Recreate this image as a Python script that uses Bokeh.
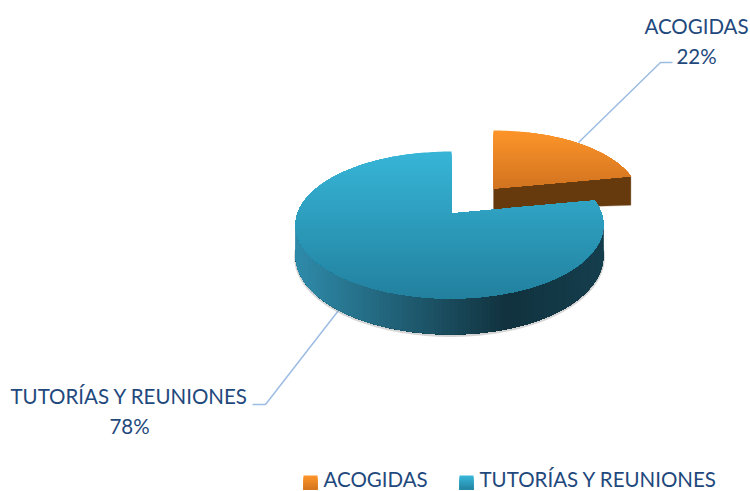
from math import sin, cos, pi
from bokeh.plotting import figure
from bokeh.models import Range1d
from bokeh.core.properties import value
from bokeh.embed import file_html
from bokeh.resources import INLINE

categories = ["ACOGIDAS", "TUTORÍAS Y REUNIONES"]
percentages = [22, 78]

FONT = value("Lato")
FS = "20.5px"
TEXT = "#1f497d"
LEADER = "#9dbce3"

p = figure(width=750, height=491, x_range=Range1d(0, 750), y_range=Range1d(491, 0),
           output_backend="svg", toolbar_location=None, min_border=0,
           outline_line_color=None, background_fill_color="white")
p.axis.visible = False
p.grid.visible = False


def lerp(c0, c1, t):
    t = max(0, min(1, t))
    return "#%02x%02x%02x" % tuple(round(a + (b - a) * t) for a, b in zip(c0, c1))


def rim(ax, ay, theta, r_left=154, r_right=150, k=71.7, persp=0.156, scale=1.0):
    s = scale / (1 + persp * cos(theta))
    r = r_right if sin(theta) > 0 else r_left
    return ax + r * sin(theta) * s, ay - k * cos(theta) * s


def clip_below(poly, y0):
    out = []
    for i, (x1, y1) in enumerate(poly):
        x2, y2 = poly[(i + 1) % len(poly)]
        if y1 >= y0:
            out.append((x1, y1))
        if (y1 >= y0) != (y2 >= y0):
            t = (y0 - y1) / (y2 - y1)
            out.append((x1 + t * (x2 - x1), y0))
    return out


def gradient_fill(poly, top, bottom):
    ys = [q[1] for q in poly]
    y0, y1 = min(ys), max(ys)
    y = y0
    while y < y1:
        piece = clip_below(poly, y)
        if len(piece) > 2:
            p.patch([q[0] for q in piece], [q[1] for q in piece], line_color=None,
                    fill_color=lerp(top, bottom, (y - y0) / (y1 - y0)))
        y += 1.5


def arc(ax, ay, a0, a1, scale=1.0, n=120, **kw):
    return [rim(ax, ay, a0 + (a1 - a0) * i / n, scale=scale, **kw) for i in range(n + 1)]


boundary = percentages[0] / sum(percentages) * 2 * pi

# leader lines
p.line([578, 660, 672], [142, 62, 62], line_color=LEADER, line_width=1.5)
p.line([338, 265, 252], [310, 404, 404], line_color=LEADER, line_width=1.5)

# orange slice, pulled out of the pie
OA = (493, 188)
orange_rim = arc(*OA, 0, boundary, scale=0.935, r_right=154)
end = orange_rim[-1]
p.patch([OA[0], end[0], end[0], OA[0]], [OA[1], end[1], end[1] + 29, OA[1] + 21],
        fill_color="#673a0e", line_color="#8a6a4a", line_alpha=0.35, line_width=1)
gradient_fill([OA] + orange_rim, (252, 148, 41), (209, 115, 32))

# main slice
MA = (451, 213)
depth = lambda th: 30 - 6 * cos(th)
N = 150
side_start = boundary
side_end = 1.52 * pi
outer = arc(*MA, side_start, side_end, n=N)
thetas = [side_start + (side_end - side_start) * i / N for i in range(N + 1)]
lower = [(x, y + depth(t)) for (x, y), t in zip(outer, thetas)]
# soft shadow beneath the side wall
p.line([q[0] for q in lower], [q[1] + 1 for q in lower], line_color="#888888", line_alpha=0.35, line_width=3)
LEFT, MID, RIGHT = (47, 139, 170), (17, 50, 62), (21, 62, 77)
# each piece runs to the end of the wall, so later ones overpaint with no seams
for i in range(N):
    xm = (outer[i][0] + outer[i + 1][0]) / 2
    col = lerp(MID, LEFT, (506 - xm) / 210) if xm < 506 else lerp(MID, RIGHT, (xm - 506) / 95)
    poly = outer[i:] + lower[i:][::-1]
    p.patch([q[0] for q in poly], [q[1] for q in poly], fill_color=col, line_color=None)
gradient_fill([MA] + arc(*MA, boundary, 2 * pi, n=240), (55, 181, 215), (34, 128, 158))

# data labels
labels = [(696, 25, 55, 0), (129, 395, 425, 1)]
for x, y1, y2, i in labels:
    p.text([x], [y1], text=[categories[i]], text_font=FONT, text_font_size=FS,
           text_color=TEXT, text_align="center", text_baseline="middle")
    p.text([x], [y2], text=[f"{percentages[i]}%"], text_font=FONT, text_font_size=FS,
           text_color=TEXT, text_align="center", text_baseline="middle")

# legend
swatch_y = 482
text_y = 478.5
swatches = [(303, 323, (252, 148, 41), (209, 115, 32)), (459, 479, (55, 181, 215), (34, 128, 158))]
for i, (sx, tx, c0, c1) in enumerate(swatches):
    gradient_fill([(sx, swatch_y - 7), (sx + 14, swatch_y - 7), (sx + 14, swatch_y + 7), (sx, swatch_y + 7)], c0, c1)
    p.text([tx], [text_y], text=[categories[i]], text_font=FONT, text_font_size=FS,
           text_color=TEXT, text_align="left", text_baseline="middle")

open("out.html", "w").write(file_html(p, INLINE))
